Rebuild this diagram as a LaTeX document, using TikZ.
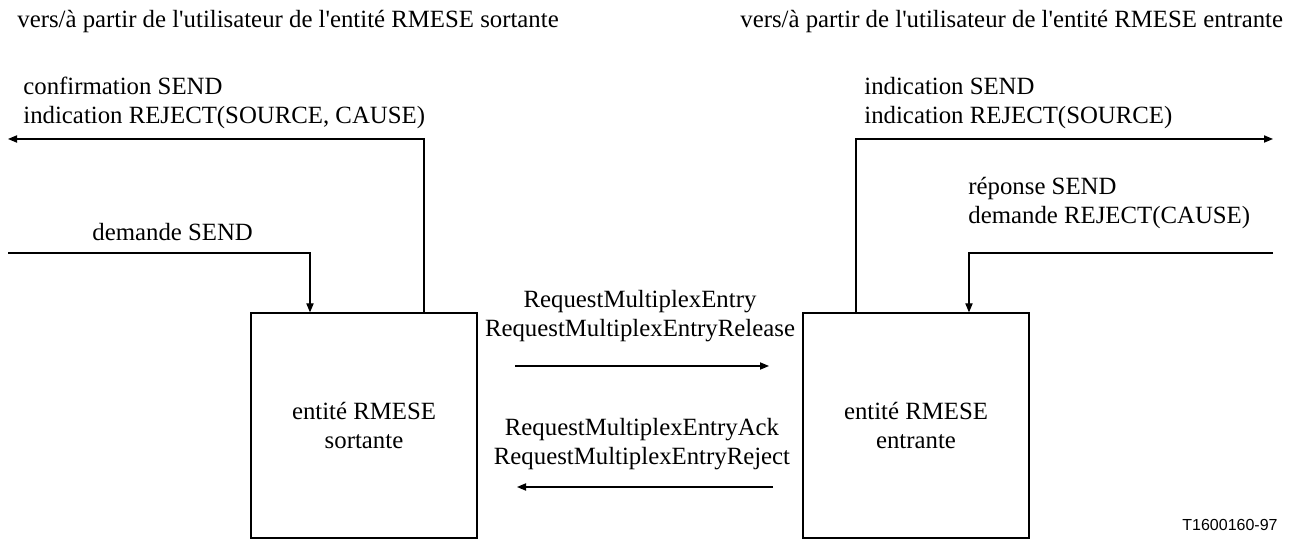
\documentclass[tikz,border=0pt]{standalone}
\usepackage{fontspec}
\setmainfont{Liberation Serif}
\newfontfamily\tagfont{Liberation Sans}
\usetikzlibrary{arrows.meta}

\newcommand{\ap}{\textquotesingle}

\tikzset{
  entity/.style={draw, line width=0.6pt, minimum width=113pt, minimum height=112.5pt, align=center, inner sep=0pt},
  msg/.style={inner sep=0pt, align=left, anchor=west},
  flow/.style={line width=0.6pt, -{Triangle[length=4.5pt,width=3.6pt]}},
  line/.style={line width=0.6pt}
}

\begin{document}
\begin{tikzpicture}[x=0.5pt, y=-0.5pt, font=\fontsize{12.4}{14.5}\selectfont]
    \useasboundingbox (0,0) rectangle (1292,539);

    % Headers
    \node[msg] (hdrL) at (17,22) {vers/à partir de l\ap utilisateur de l\ap entité RMESE sortante};
    \node[msg] (hdrR) at (740,22) {vers/à partir de l\ap utilisateur de l\ap entité RMESE entrante};

    % Entities
    \node[entity] (sortante) at (364,425.5) {entité RMESE\\sortante};
    \node[entity] (entrante) at (916,425.5) {entité RMESE\\entrante};

    % Free ends
    \coordinate (confL) at (8,139);
    \coordinate (demL) at (8,253);
    \coordinate (indR) at (1273,139);
    \coordinate (repR) at (1273,253);
    \coordinate (reqA) at (515,366);
    \coordinate (reqB) at (769,366);
    \coordinate (ackA) at (773,487);
    \coordinate (ackB) at (517,487);

    % Primitives, left side
    \draw[flow] ([xshift=30pt]sortante.north) |- (confL);
    \draw[flow] (demL) -| ([xshift=-27pt]sortante.north);

    % Primitives, right side
    \draw[flow] ([xshift=-30pt]entrante.north) |- (indR);
    \draw[flow] (repR) -| ([xshift=26.5pt]entrante.north);

    % Messages
    \draw[flow] (reqA) -- (reqB);
    \draw[flow] (ackA) -- (ackB);

    % Labels
    \node[msg] (confT) at (23,103) {confirmation SEND\\indication REJECT(SOURCE, CAUSE)};
    \node[msg] (demT) at (92,232) {demande SEND};
    \node[msg] (indT) at (864,103) {indication SEND\\indication REJECT(SOURCE)};
    \node[msg] (repT) at (968,203) {réponse SEND\\demande REJECT(CAUSE)};
    \node[inner sep=0pt, align=center] (reqT) at (640,316) {RequestMultiplexEntry\\RequestMultiplexEntryRelease};
    \node[inner sep=0pt, align=center] (ackT) at (642,444) {RequestMultiplexEntryAck\\RequestMultiplexEntryReject};
    \node[msg, font=\tagfont\fontsize{8}{9}\selectfont] (tag) at (1182,525) {T1600160-97};
\end{tikzpicture}
\end{document}
